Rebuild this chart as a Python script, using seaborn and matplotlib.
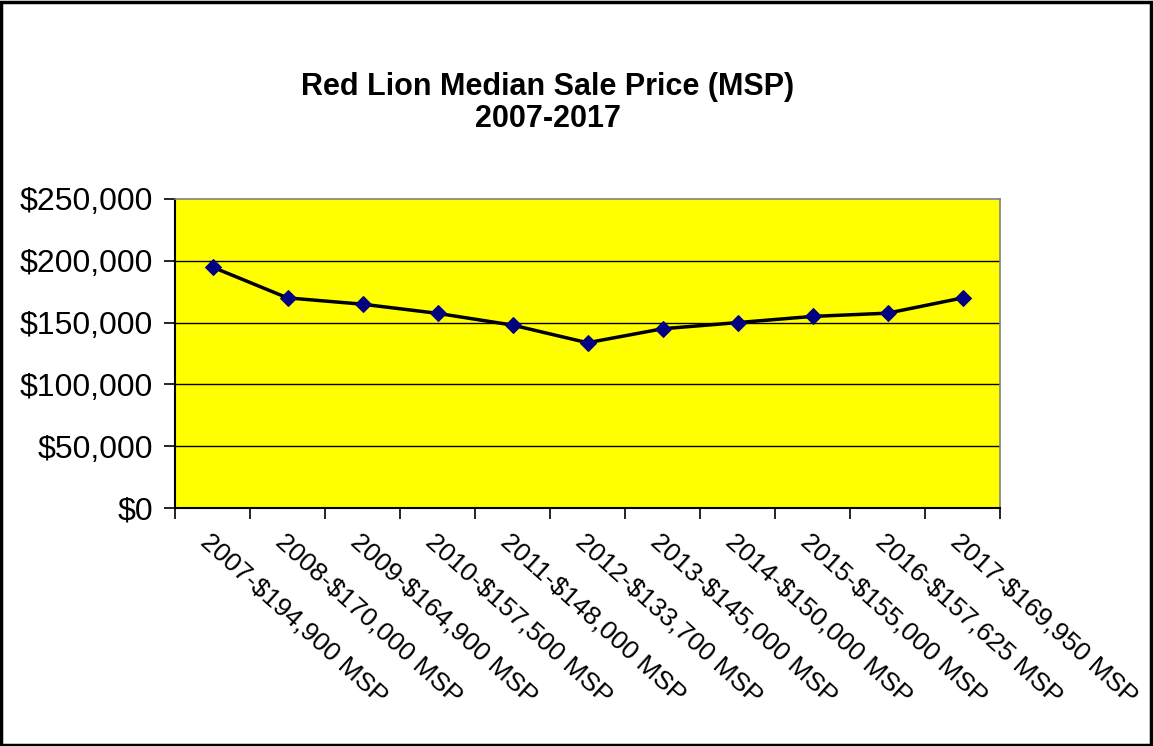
"""Red Lion median sale price line chart"""
import matplotlib
matplotlib.use("Agg")
import matplotlib.pyplot as plt
import matplotlib.ticker as mticker
import numpy as np
import pandas as pd
import seaborn as sns
from matplotlib.patches import Rectangle

# data
years = [2007, 2008, 2009, 2010, 2011, 2012, 2013, 2014, 2015, 2016, 2017]
msp = [194900, 170000, 164900, 157500, 148000, 133700, 145000, 150000, 155000, 157625, 169950]
tick_labels = [
    "2007-$194,900 MSP", "2008-$170,000 MSP", "2009-$164,900 MSP",
    "2010-$157,500 MSP", "2011-$148,000 MSP", "2012-$133,700 MSP",
    "2013-$145,000 MSP", "2014-$150,000 MSP", "2015-$155,000 MSP",
    "2016-$157,625 MSP", "2017-$169,950 MSP",
]
y_ticks = [0, 50000, 100000, 150000, 200000, 250000]

sns.set_style("white")
plt.rcParams["font.family"] = ["Liberation Sans", "DejaVu Sans"]
plt.rcParams["text.color"] = "black"
plt.rcParams["xtick.color"] = "black"
plt.rcParams["ytick.color"] = "black"

df = pd.DataFrame({"pos": np.arange(len(years)), "msp": msp})

fig = plt.figure(figsize=(11.53, 7.46), dpi=100)
ax = fig.add_axes([175 / 1153, 1 - 508 / 746, 825 / 1153, 309 / 746])
ax.set_facecolor("#FFFF00")

sns.lineplot(data=df, x="pos", y="msp", ax=ax, color="black", linewidth=2.5,
             marker="D", markersize=8.5, markerfacecolor="#000080",
             markeredgecolor="#000080", zorder=3)

ax.set_xlim(-0.5, len(years) - 0.5)
ax.set_ylim(0, 250000)
ax.set_yticks(y_ticks)
ax.yaxis.set_major_formatter(mticker.FuncFormatter(lambda v, p: f"${v:,.0f}"))
for v in y_ticks[1:-1]:
    ax.axhline(v, color="black", linewidth=1.0, zorder=1)

# category boundaries get ticks, labels sit on the centers
ax.set_xticks(np.arange(-0.5, len(years), 1.0))
ax.set_xticklabels([])
ax.set_xticks(np.arange(len(years)), minor=True)
ax.set_xticklabels(tick_labels, minor=True, rotation=-42, ha="left", va="top",
                   rotation_mode="anchor", fontsize=19, color="black")
ax.tick_params(axis="x", which="minor", length=0, pad=15)
ax.tick_params(axis="x", which="major", length=8, width=1.2, direction="out",
               color="black", bottom=True)
ax.tick_params(axis="y", length=8, width=1.2, direction="out", color="black",
               left=True, labelsize=23, pad=8, labelcolor="black")
ax.set_xlabel("")
ax.set_ylabel("")

for side in ["left", "bottom"]:
    ax.spines[side].set_color("black")
    ax.spines[side].set_linewidth(1.5)
for side in ["top", "right"]:
    ax.spines[side].set_visible(True)
    ax.spines[side].set_color("#808080")
    ax.spines[side].set_linewidth(1.2)

fig.text(548 / 1153, 0.862, "Red Lion Median Sale Price (MSP)\n2007-2017",
         ha="center", va="center", fontsize=22, fontweight="bold",
         linespacing=1.1, color="black")

fig.patches.append(Rectangle((0.001, 0.002), 0.997, 0.995, transform=fig.transFigure,
                             fill=False, edgecolor="black", linewidth=2.5))

fig.savefig("out.png", dpi=100, facecolor="white")
